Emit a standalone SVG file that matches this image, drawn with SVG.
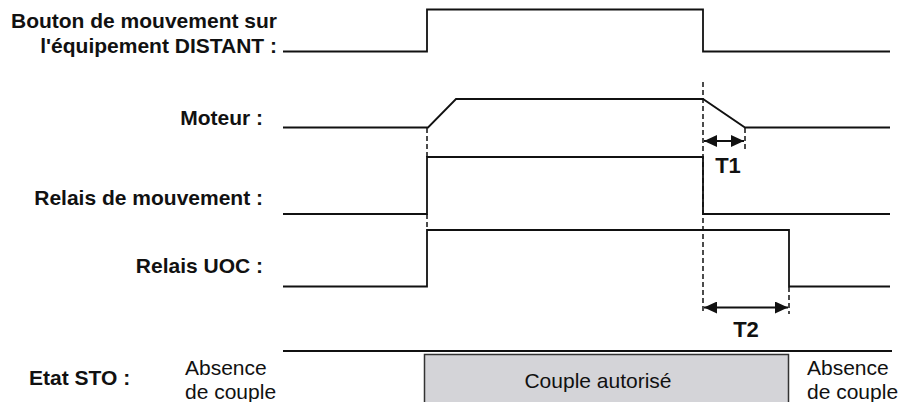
<svg xmlns="http://www.w3.org/2000/svg" width="898" height="402" viewBox="0 0 898 402">
<style>
.sig{fill:none;stroke:#111;stroke-width:1.8;stroke-linejoin:miter}
.dash{fill:none;stroke:#111;stroke-width:1.5;stroke-dasharray:5,3}
.arr{fill:none;stroke:#111;stroke-width:1.8}
.lbl{font-family:"Liberation Sans",Arial,sans-serif;font-weight:bold;font-size:21px;fill:#111}
.tl{font-family:"Liberation Sans",Arial,sans-serif;font-weight:bold;font-size:22px;fill:#111}
.txt{font-family:"Liberation Sans",Arial,sans-serif;font-size:21px;fill:#111}
</style>
<defs>
<marker id="ah" viewBox="0 0 13 12" refX="13" refY="6" markerWidth="13" markerHeight="12" markerUnits="userSpaceOnUse" orient="auto-start-reverse">
<path d="M0,0 L13,6 L0,12 Z" fill="#111"/>
</marker>
</defs>
<rect width="898" height="402" fill="#fff"/>
<g id="labels">
<text class="lbl" x="277" y="28" text-anchor="end">Bouton de mouvement sur</text>
<text class="lbl" x="277" y="53" text-anchor="end">l'équipement DISTANT :</text>
<text class="lbl" x="263" y="125" text-anchor="end">Moteur :</text>
<text class="lbl" x="263" y="205" text-anchor="end">Relais de mouvement :</text>
<text class="lbl" x="263" y="273" text-anchor="end">Relais UOC :</text>
<text class="lbl" x="29" y="385">Etat STO :</text>
</g>
<g id="signals">
<path id="bouton" class="sig" d="M283,51.5 H427 V9.5 H703 V51.5 H890"/>
<path id="moteur" class="sig" d="M283,127.5 H428 L456,99 H703 L745,127.5 H890"/>
<path id="relais-mvt" class="sig" d="M283,214 H427 V157 H703 V214 H890"/>
<path id="relais-uoc" class="sig" d="M283,286.5 H427 V230 H789 V286.5 H890"/>
</g>
<g id="connectors">
<line class="dash" x1="427" y1="128" x2="427" y2="157"/>
<line class="dash" x1="427" y1="214" x2="427" y2="230"/>
<line class="dash" x1="703" y1="82" x2="703" y2="314"/>
<line class="dash" x1="745" y1="128" x2="745" y2="149"/>
<line class="dash" x1="789" y1="287" x2="789" y2="314"/>
<line class="arr" x1="704" y1="141" x2="744" y2="141" marker-start="url(#ah)" marker-end="url(#ah)"/>
<line class="arr" x1="704" y1="307.5" x2="788" y2="307.5" marker-start="url(#ah)" marker-end="url(#ah)"/>
</g>
<g id="t1"><text class="tl" x="728" y="173" text-anchor="middle">T1</text></g>
<g id="t2"><text class="tl" x="746" y="337" text-anchor="middle">T2</text></g>
<g id="sto">
<line class="sig" x1="283" y1="351" x2="892" y2="351"/>
<rect x="424.5" y="354.5" width="364" height="60" fill="#d4d4d8" stroke="#333" stroke-width="1.5"/>
<text class="txt" x="598" y="388" text-anchor="middle">Couple autorisé</text>
<text class="txt" x="185" y="375">Absence</text>
<text class="txt" x="185" y="399">de couple</text>
<text class="txt" x="807" y="375">Absence</text>
<text class="txt" x="807" y="399">de couple</text>
</g>
</svg>
